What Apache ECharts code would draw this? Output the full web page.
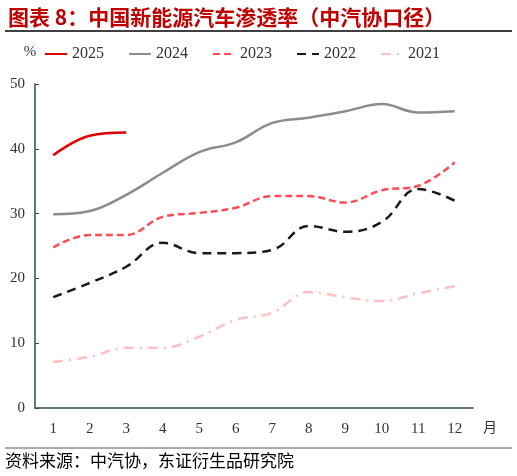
<!DOCTYPE html>
<html>

<head>
    <meta charset="utf-8">
    <title>ECharts</title>
    <script src="https://cdn.jsdelivr.net/npm/echarts@6/dist/echarts.min.js"></script>
    <style>
        body { margin: 0; background: #fff; }
    </style>
</head>

<body>
    <div id="main" style="width: 517px;height:476px;"></div>
    <script type="text/javascript">
        // 月份与各年渗透率 (%)
        const months = ['1', '2', '3', '4', '5', '6', '7', '8', '9', '10', '11', '12']
        const y2025 = [39.0, 42.0, 42.5]
        const y2024 = [29.9, 30.4, 32.9, 36.3, 39.5, 41.0, 44.0, 44.8, 45.8, 46.9, 45.6, 45.8]
        const y2023 = [24.8, 26.7, 26.7, 29.5, 30.1, 30.9, 32.7, 32.7, 31.7, 33.6, 34.3, 37.9]
        const y2022 = [17.1, 19.3, 21.8, 25.5, 23.9, 23.9, 24.4, 28.1, 27.2, 28.7, 33.8, 32.0]
        const y2021 = [7.1, 7.9, 9.3, 9.3, 11.0, 13.6, 14.7, 17.9, 17.1, 16.5, 17.7, 18.8]
        const yTicks = [0, 10, 20, 30, 40, 50]

        var myChart = echarts.init(document.getElementById('main'));
        const serif = 'Liberation Serif'
        const axisColor = '#2f4f4f'

        const mkLine = (name, data, color, type) => ({
            name: name,
            type: 'line',
            data: data,
            smooth: 0.4,
            symbol: 'none',
            lineStyle: { color: color, width: 2.5, type: type },
            itemStyle: { color: color }
        })

        var option = {
            animation: false,
            title: {
                text: '图表 8：中国新能源汽车渗透率（中汽协口径）',
                left: 3,
                top: 2,
                textStyle: { color: '#c00000', fontSize: 21, fontWeight: 'bold', fontFamily: 'Noto Sans CJK SC' }
            },
            graphic: [
                { type: 'line', shape: { x1: 5, y1: 31, x2: 512, y2: 31 }, style: { stroke: '#000', lineWidth: 1.5 } },
                { type: 'line', shape: { x1: 5, y1: 448, x2: 512, y2: 448 }, style: { stroke: '#555', lineWidth: 1 } },
                {
                    type: 'text', left: 5, top: 452,
                    style: { text: '资料来源：中汽协，东证衍生品研究院', fontSize: 17, fill: '#000', fontFamily: 'Noto Sans CJK SC' }
                }
            ],
            legend: {
                top: 41,
                left: 39,
                itemWidth: 22,
                itemHeight: 3,
                itemGap: 24,
                itemStyle: { opacity: 0 },
                textStyle: { fontFamily: serif, fontSize: 16, color: '#333' },
                data: ['2025', '2024', '2023', '2022', '2021']
            },
            grid: { left: 35, right: 44, top: 84, bottom: 68 },
            xAxis: {
                type: 'category',
                data: months,
                name: '月',
                nameLocation: 'end',
                nameGap: 10,
                nameTextStyle: { fontFamily: 'Noto Sans CJK SC', fontSize: 14, color: '#333', verticalAlign: 'top', padding: [12, 0, 0, 0] },
                axisLine: { lineStyle: { color: axisColor, width: 1.5 } },
                axisTick: { inside: true, length: 4, lineStyle: { color: axisColor } },
                axisLabel: { fontFamily: serif, fontSize: 15, color: '#333', margin: 14 }
            },
            yAxis: {
                type: 'value',
                min: yTicks[0],
                max: yTicks[yTicks.length - 1],
                interval: 10,
                name: '%',
                nameGap: 24,
                nameTextStyle: { fontFamily: serif, fontSize: 15, color: '#333', padding: [0, 10, 0, 0] },
                axisLine: { show: true, lineStyle: { color: axisColor, width: 1.5 } },
                axisTick: { show: true, inside: true, length: 4, lineStyle: { color: axisColor } },
                axisLabel: { fontFamily: serif, fontSize: 15, color: '#333', margin: 10 },
                splitLine: { show: false }
            },
            series: [
                mkLine('2025', y2025, '#e00000', 'solid'),
                mkLine('2024', y2024, '#8c8c8c', 'solid'),
                mkLine('2023', y2023, '#ff4b55', [7, 4]),
                mkLine('2022', y2022, '#1a1a1a', [9, 6]),
                mkLine('2021', y2021, '#ffc0c4', [10, 6, 2, 6])
            ]
        };

        myChart.setOption(option);
    </script>
</body>

</html>
